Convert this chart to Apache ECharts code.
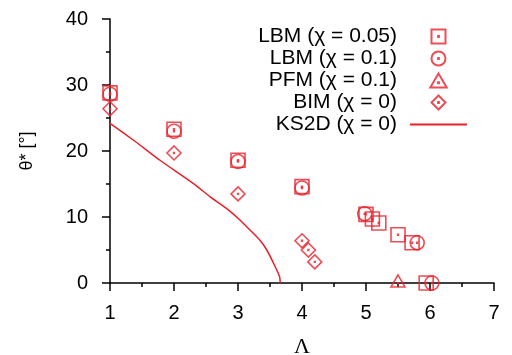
<!DOCTYPE html>
<html>
<head>
<meta charset="utf-8">
<script src="https://cdn.jsdelivr.net/npm/echarts@6/dist/echarts.min.js"></script>
<style>
  html, body { margin: 0; padding: 0; background: #fff; }
  #chart { width: 512px; height: 355px; }
</style>
</head>
<body>
<div id="chart"></div>
<script>
// data: [Lambda, theta*]
const lbm005 = [[1, 28.8], [2, 23.3], [3, 18.6], [4, 14.6], [5, 10.4], [5.1, 9.7], [5.2, 9.1], [5.5, 7.3], [5.72, 6.1], [5.94, 0]];
const lbm01 = [[1, 28.6], [2, 23.0], [3, 18.4], [4, 14.4], [4.98, 10.5], [5.8, 6.1], [6.03, 0]];
const pfm01 = [[5.5, 0.3]];
const bim0 = [[1, 26.4], [2, 19.7], [3, 13.5], [4.0, 6.4], [4.1, 5.0], [4.2, 3.2]];
const ks2d = [[1, 24.2], [1.4, 21.4], [1.78, 18.6], [2.3, 15.1], [2.56, 13.1], [2.82, 11.3], [3.03, 9.55], [3.19, 8.0], [3.34, 6.5], [3.45, 5.0], [3.58, 2.5], [3.65, 0.95], [3.66, 0]];
const seriesNames = ['LBM (χ = 0.05)', 'LBM (χ = 0.1)', 'PFM (χ = 0.1)', 'BIM (χ = 0)', 'KS2D (χ = 0)'];

const red = '#e8202a';
const sym = {
  square: 'path://M0,0H14V14H0Z M6.6,6.6H7.4V7.4H6.6Z',
  circle: 'path://M0,7A7,7 0 1,1 14,7A7,7 0 1,1 0,7Z M6.6,6.6H7.4V7.4H6.6Z',
  triangle: 'path://M7,0L14,12H0Z M6.6,7.6H7.4V8.4H6.6Z',
  diamond: 'path://M7,0L14,7L7,14L0,7Z M6.6,6.6H7.4V7.4H6.6Z'
};

function scatter(name, data, symbol, size) {
  return {
    name: name,
    type: 'scatter',
    data: data,
    symbol: symbol,
    symbolSize: size,
    clip: false,
    itemStyle: { color: 'none', borderColor: red, borderWidth: 1.6 }
  };
}

const chart = echarts.init(document.getElementById('chart'));
chart.setOption({
  animation: false,
  backgroundColor: '#fff',
  textStyle: { fontFamily: 'Liberation Sans, Arial, sans-serif' },
  grid: { left: 110, right: 18, top: 19, bottom: 72, outerBoundsMode: 'none', containLabel: false },
  legend: {
    orient: 'vertical',
    right: 39,
    top: 21,
    align: 'right',
    itemWidth: 57,
    itemHeight: 14,
    itemGap: 1,
    textStyle: { fontSize: 21, color: '#000', lineHeight: 18, padding: [0, 8, 0, 0] },
    data: seriesNames.slice(0, 4).concat([{ name: seriesNames[4], itemStyle: { opacity: 0 } }])
  },
  xAxis: {
    type: 'value',
    min: 1, max: 7, interval: 1,
    name: 'Λ',
    nameLocation: 'middle',
    nameGap: 53,
    nameTextStyle: { fontFamily: 'Liberation Serif', fontSize: 22, color: '#000' },
    axisLine: { onZero: false, lineStyle: { color: '#000', width: 1.5 } },
    axisTick: { length: 8, lineStyle: { color: '#000', width: 1.5 } },
    minorTick: { show: true, splitNumber: 2, length: 4, lineStyle: { color: '#000', width: 1.5 } },
    axisLabel: { fontSize: 20, color: '#000', margin: 20 },
    splitLine: { show: false }
  },
  yAxis: {
    type: 'value',
    min: 0, max: 40, interval: 10,
    name: 'θ* [°]',
    nameLocation: 'middle',
    nameGap: 74,
    nameTextStyle: { fontSize: 18, color: '#000' },
    axisLine: { onZero: false, lineStyle: { color: '#000', width: 1.5 } },
    axisTick: { length: 8, lineStyle: { color: '#000', width: 1.5 } },
    minorTick: { show: true, splitNumber: 2, length: 4, lineStyle: { color: '#000', width: 1.5 } },
    axisLabel: { fontSize: 20, color: '#000', margin: 22 },
    splitLine: { show: false }
  },
  series: [
    scatter(seriesNames[0], lbm005, sym.square, 14),
    scatter(seriesNames[1], lbm01, sym.circle, 14),
    scatter(seriesNames[2], pfm01, sym.triangle, [14, 12]),
    scatter(seriesNames[3], bim0, sym.diamond, 14),
    {
      name: seriesNames[4],
      type: 'line',
      data: ks2d,
      symbol: 'none',
      smooth: 0.2,
      clip: false,
      lineStyle: { color: red, width: 1.5 },
      itemStyle: { color: red }
    }
  ]
});
</script>
</body>
</html>
